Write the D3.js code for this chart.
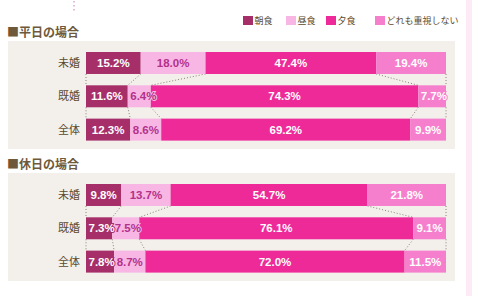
<!DOCTYPE html>
<html>
<head>
<meta charset="utf-8">
<script src="https://cdn.jsdelivr.net/npm/d3@7"></script>
<style>
  body { margin: 0; background: #fff; }
  svg { display: block; }
  .jp { font-family: "Noto Sans CJK JP", sans-serif; }
  .val { font-family: "Liberation Sans", Arial, sans-serif; font-weight: bold; font-size: 11.5px; }
</style>
</head>
<body>
<div id="chart"></div>
<script>
// data
var categories = ["未婚", "既婚", "全体"];
var meals = ["朝食", "昼食", "夕食", "どれも重視しない"];
var weekdayValues = [
  [15.2, 18.0, 47.4, 19.4],
  [11.6, 6.4, 74.3, 7.7],
  [12.3, 8.6, 69.2, 9.9]
];
var holidayValues = [
  [9.8, 13.7, 54.7, 21.8],
  [7.3, 7.5, 76.1, 9.1],
  [7.8, 8.7, 72.0, 11.5]
];
var sectionTitles = ["■平日の場合", "■休日の場合"];

var colors = ["#a62f69", "#f8b6e5", "#ee2a99", "#f67fcd"];
var labelColors = ["#fff", "#b3318a", "#fff", "#fff"];

var width = 477, height = 296;

var svg = d3.select("#chart").append("svg")
  .attr("width", width)
  .attr("height", height);

// pale strip on the right edge and dotted mark at the top
svg.append("rect")
  .attr("x", 466).attr("y", 0)
  .attr("width", 6).attr("height", height)
  .attr("fill", "#fcebf5");

svg.append("line")
  .attr("x1", 74).attr("x2", 74)
  .attr("y1", 1).attr("y2", 13)
  .attr("stroke", "#dca6cc")
  .attr("stroke-width", 1.5)
  .attr("stroke-dasharray", "1.5,2.5");

// legend
var legendX = [243, 286, 326, 375];
var legend = svg.append("g").selectAll("g")
  .data(meals)
  .join("g")
  .attr("transform", function (d, i) { return "translate(" + legendX[i] + ",16)"; });

legend.append("rect")
  .attr("width", 10)
  .attr("height", 9)
  .attr("fill", function (d, i) { return colors[i]; });

legend.append("text")
  .attr("class", "jp")
  .attr("x", 11.5)
  .attr("y", 8.3)
  .attr("font-size", "9px")
  .attr("fill", "#5b4a2e")
  .text(function (d) { return d; });

// shared x scale, 0..100 percent
var xScale = d3.scaleLinear()
  .domain([0, 100])
  .range([86, 446]);

var stack = d3.stack()
  .keys(d3.range(meals.length))
  .value(function (d, k) { return d[k]; });

function drawSection(values, title, top) {
  var g = svg.append("g");

  g.append("text")
    .attr("class", "jp")
    .attr("x", 7)
    .attr("y", top)
    .attr("font-size", "12px")
    .attr("font-weight", "bold")
    .attr("fill", "#6e5a3a")
    .text(title);

  // beige panel
  g.append("rect")
    .attr("x", 8)
    .attr("y", top + 4)
    .attr("width", 447)
    .attr("height", 108)
    .attr("fill", "#f3f0ec");

  var yScale = d3.scaleBand()
    .domain(categories)
    .range([top + 15, top + 103.6])
    .paddingInner(0.34);

  var series = stack(values);

  // dotted connectors between neighbouring rows
  var bounds = values.map(function (row) {
    var acc = [0];
    row.forEach(function (v) { acc.push(acc[acc.length - 1] + v); });
    return acc;
  });
  for (var r = 0; r < categories.length - 1; r++) {
    bounds[r].forEach(function (b, k) {
      g.append("line")
        .attr("x1", xScale(b))
        .attr("y1", yScale(categories[r]) + yScale.bandwidth())
        .attr("x2", xScale(bounds[r + 1][k]))
        .attr("y2", yScale(categories[r + 1]))
        .attr("stroke", "#8a8070")
        .attr("stroke-width", 1)
        .attr("stroke-dasharray", "1,2");
    });
  }

  // stacked segments
  series.forEach(function (s, k) {
    g.append("g").selectAll("rect")
      .data(s)
      .join("rect")
      .attr("x", function (d) { return xScale(d[0]); })
      .attr("y", function (d, i) { return yScale(categories[i]); })
      .attr("width", function (d) { return xScale(d[1]) - xScale(d[0]); })
      .attr("height", yScale.bandwidth())
      .attr("fill", colors[k]);
  });

  // value labels, centred but kept off the left edge of narrow segments
  series.forEach(function (s, k) {
    g.append("g").selectAll("text")
      .data(s)
      .join("text")
      .attr("class", "val")
      .attr("y", function (d, i) { return yScale(categories[i]) + yScale.bandwidth() / 2 + 4; })
      .attr("fill", labelColors[k])
      .attr("stroke", colors[k])
      .attr("stroke-width", 2)
      .attr("paint-order", "stroke")
      .text(function (d, i) { return values[i][k].toFixed(1) + "%"; })
      .attr("x", function (d) {
        var w = this.getComputedTextLength();
        var x0 = xScale(d[0]), x1 = xScale(d[1]);
        return Math.max((x0 + x1) / 2 - w / 2, x0 + 2.5);
      });
  });

  // category labels
  g.append("g").selectAll("text")
    .data(categories)
    .join("text")
    .attr("class", "jp")
    .attr("x", 80)
    .attr("y", function (d) { return yScale(d) + yScale.bandwidth() / 2 + 4; })
    .attr("text-anchor", "end")
    .attr("font-size", "11px")
    .attr("fill", "#5b4a2e")
    .text(function (d) { return d; });
}

drawSection(weekdayValues, sectionTitles[0], 37);
drawSection(holidayValues, sectionTitles[1], 169);
</script>
</body>
</html>
